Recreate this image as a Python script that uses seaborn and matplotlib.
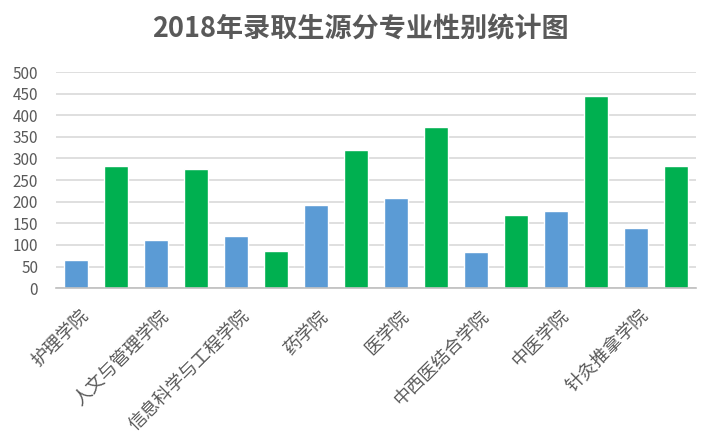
import matplotlib
matplotlib.use("Agg")
import matplotlib.pyplot as plt
import matplotlib.transforms as mtransforms
import seaborn as sns
import pandas as pd

# data
colleges = ["护理学院", "人文与管理学院", "信息科学与工程学院", "药学院",
            "医学院", "中西医结合学院", "中医学院", "针灸推拿学院"]
male = [65, 112, 121, 193, 209, 84, 179, 140]
female = [283, 276, 86, 320, 373, 170, 445, 283]
y_ticks = [0, 50, 100, 150, 200, 250, 300, 350, 400, 450, 500]

df = pd.DataFrame({
    "学院": colleges * 2,
    "性别": ["男"] * len(colleges) + ["女"] * len(colleges),
    "人数": male + female,
})

sns.set_theme(style="white")
plt.rcParams["font.family"] = ["Noto Sans CJK SC", "DejaVu Sans"]

fig = plt.figure(figsize=(7.2, 4.34), dpi=100)
ax = fig.add_axes([0.078, 0.336, 0.889, 0.498])

sns.barplot(data=df, x="学院", y="人数", hue="性别",
            palette={"男": "#5B9BD5", "女": "#00B050"},
            width=1.0, gap=0.4, saturation=1, legend=False, ax=ax)

ax.set_ylim(0, 500)
ax.set_yticks(y_ticks)
ax.set_yticklabels([str(v) for v in y_ticks], fontsize=11, color="#595959")
ax.yaxis.grid(True, color="#D9D9D9", linewidth=1.2)
ax.set_axisbelow(True)
for side in ["top", "right", "left"]:
    ax.spines[side].set_visible(False)
ax.spines["bottom"].set_color("#BFBFBF")
ax.spines["bottom"].set_linewidth(1.2)
ax.tick_params(axis="y", length=0, pad=13)
ax.tick_params(axis="x", length=0, pad=18)

ax.set_xticks(range(len(colleges)))
ax.set_xticklabels(colleges, rotation=45, ha="right", va="center",
                   rotation_mode="anchor", fontsize=13, fontweight="light",
                   color="#595959")
ax.set_xlim(-0.5, len(colleges) - 0.5)
ax.set_xlabel("")
ax.set_ylabel("")

# the rotated labels end a little left of the category centre
shift = mtransforms.ScaledTranslation(-0.10, 0, fig.dpi_scale_trans)
for lab in ax.get_xticklabels():
    lab.set_transform(lab.get_transform() + shift)

fig.suptitle("2018年录取生源分专业性别统计图", x=0.5, y=0.965,
             fontsize=19.5, fontweight="bold", color="#595959")

fig.savefig("out.png", dpi=100)
